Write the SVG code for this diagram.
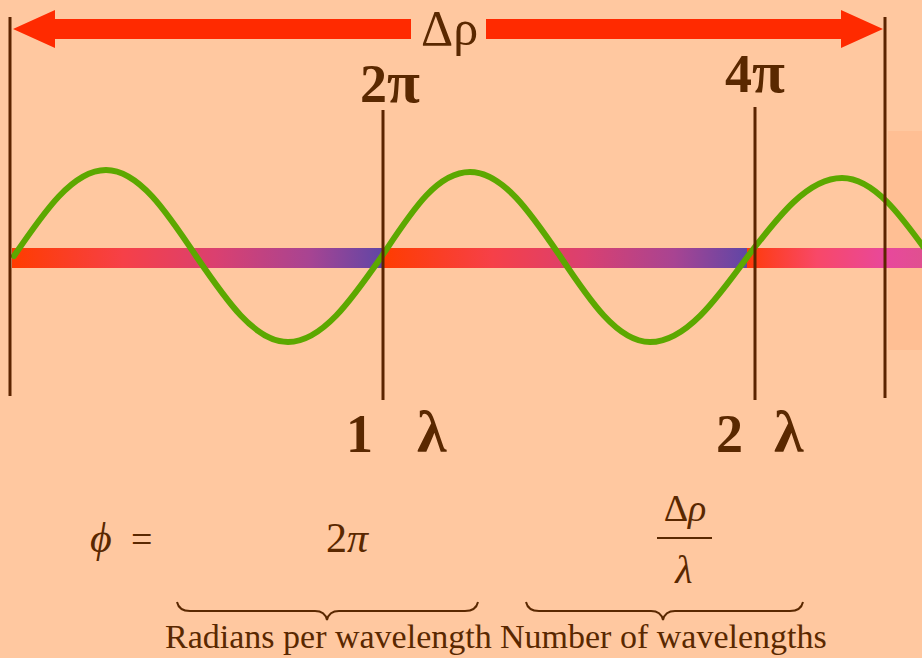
<svg xmlns="http://www.w3.org/2000/svg" width="922" height="658" viewBox="0 0 922 658">
  <defs>
    <linearGradient id="barGrad" x1="0" y1="0" x2="1" y2="0">
      <stop offset="0" stop-color="#FF3C00"/>
      <stop offset="0.3" stop-color="#F64048"/>
      <stop offset="0.55" stop-color="#DA4070"/>
      <stop offset="0.8" stop-color="#A84492"/>
      <stop offset="1" stop-color="#6046A6"/>
    </linearGradient>
    <linearGradient id="barGrad3" x1="0" y1="0" x2="1" y2="0">
      <stop offset="0" stop-color="#FF3A08"/>
      <stop offset="0.4" stop-color="#F84868"/>
      <stop offset="0.8" stop-color="#E8489C"/>
      <stop offset="1" stop-color="#E05090"/>
    </linearGradient>
    <style>
      .vline { stroke: #5C2400; stroke-width: 3; fill: none; }
      .arrow { fill: #FF2A00; }
      .brace { stroke: #5A2800; stroke-width: 2; fill: none; }
      .serif { font-family: "Liberation Serif", "DejaVu Serif", serif; fill: #5A2800; }
      .big { font-size: 54px; font-weight: bold; }
      .lam { font-size: 60px; }
      .wave { stroke: #5CA800; stroke-width: 6; fill: none; stroke-linecap: round; stroke-linejoin: round; }
    </style>
  </defs>

  <rect x="0" y="0" width="922" height="658" fill="#FFC8A0"/>
  <rect id="side-panel" x="888" y="131" width="34" height="219" fill="#FFBF94"/>

  <g id="bar">
    <rect x="12" y="248" width="371" height="20" fill="url(#barGrad)"/>
    <rect x="383" y="248" width="364" height="20" fill="url(#barGrad)"/>
    <rect x="747" y="248" width="175" height="20" fill="url(#barGrad3)"/>
  </g>

  <g id="wave">
    <path class="wave" d="M14,256 C44,212 72.7,170 106,170 C138.6,170 166.7,212 196,256 C226,300 254.7,342 288,342 C322,342 351.4,300 382,256 C410.7,213 436.1,172 470,172 C502.6,172 530.7,213 560,256 C589.3,300 617.4,342 650,342 C685.5,342 716,300 748,256 C778.6,216 808,178 842,178 C873.9,178 901.3,216 930,256"/>
  </g>

  <g id="connectors">
    <line class="vline" x1="10" y1="17" x2="10" y2="396"/>
    <line class="vline" x1="383" y1="110" x2="383" y2="400"/>
    <line class="vline" x1="755" y1="107" x2="755" y2="400"/>
    <line class="vline" x1="885" y1="17" x2="885" y2="398"/>
    <polygon class="arrow" points="13,29 55,10 55,19 411,19 411,39 55,39 55,48"/>
    <polygon class="arrow" points="883,29 841,10 841,19 486,19 486,39 841,39 841,48"/>
  </g>

  <g id="label-delta-rho">
    <text class="serif" x="421" y="45" font-size="50">Δρ</text>
  </g>
  <g id="label-2pi">
    <text class="serif big" x="360" y="102">2<tspan font-size="60">π</tspan></text>
  </g>
  <g id="label-4pi">
    <text class="serif big" x="725" y="92">4<tspan font-size="60">π</tspan></text>
  </g>
  <g id="label-1-lambda">
    <text class="serif big" x="346" y="452">1</text>
    <text class="serif big lam" x="417" y="452">λ</text>
  </g>
  <g id="label-2-lambda">
    <text class="serif big" x="716" y="452">2</text>
    <text class="serif big lam" x="774" y="452">λ</text>
  </g>

  <g id="formula">
    <text class="serif" x="90" y="552" font-size="42" font-style="italic">ϕ</text>
    <text class="serif" x="131" y="552" font-size="38">=</text>
    <text class="serif" x="326" y="552" font-size="42">2<tspan font-style="italic">π</tspan></text>
    <text class="serif" x="685" y="521" font-size="38" text-anchor="middle">Δ<tspan font-style="italic">ρ</tspan></text>
    <line x1="657" y1="538" x2="712" y2="538" stroke="#5A2800" stroke-width="2"/>
    <text class="serif" x="684" y="583" font-size="40" font-style="italic" text-anchor="middle">λ</text>
  </g>

  <g id="brace-radians">
    <path class="brace" d="M177,602 Q179,611 190,611 L315,611 Q325,611 327,620 Q329,611 339,611 L465,611 Q476,611 478,602"/>
    <text class="serif" x="165" y="648" font-size="34">Radians per wavelength</text>
  </g>
  <g id="brace-number">
    <path class="brace" d="M526,602 Q528,611 539,611 L651,611 Q661,611 663,620 Q665,611 675,611 L790,611 Q801,611 803,602"/>
    <text class="serif" x="500" y="648" font-size="34">Number of wavelengths</text>
  </g>
</svg>
